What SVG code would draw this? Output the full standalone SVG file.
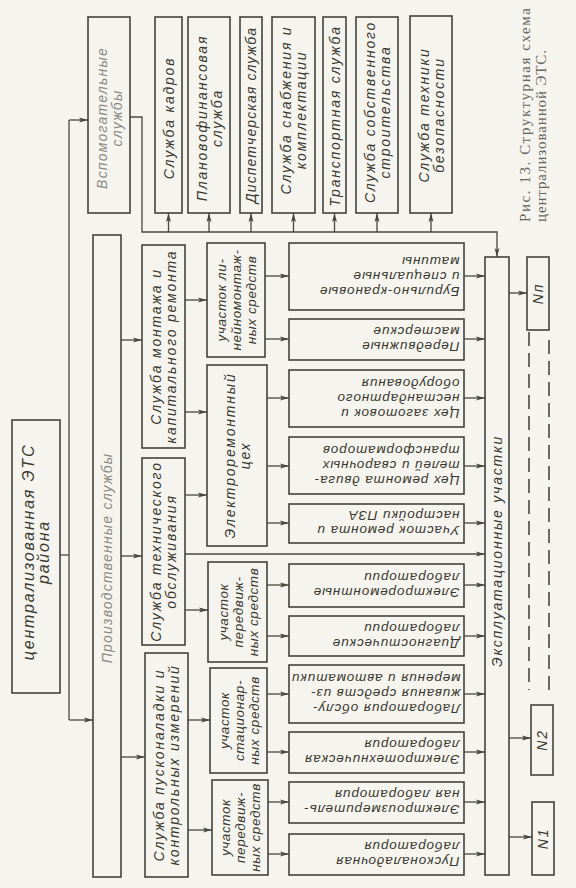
<svg xmlns="http://www.w3.org/2000/svg" width="576" height="888" viewBox="0 0 576 888">
<style>
.bg{fill:#f6f4ee}
.box{fill:none;stroke:#43433d;stroke-width:1.6}
.ln{fill:none;stroke:#48483f;stroke-width:1.3}
.ar{marker-end:url(#a)}
.dash{fill:none;stroke:#48483f;stroke-width:1.6;stroke-dasharray:14 7}
.t{font-family:"Liberation Sans","DejaVu Sans",sans-serif;font-style:italic;font-size:14px;fill:#38382f;letter-spacing:1.8px}
.c3{font-size:13.5px;letter-spacing:0.6px}
.c4{font-size:13.5px;letter-spacing:0.9px}
.tight{letter-spacing:1.1px}
.f{fill:#8a8a82;letter-spacing:1.2px}
.big{font-size:16px;letter-spacing:1.8px}
.cap{font-family:"Liberation Serif","DejaVu Serif",serif;font-size:15px;fill:#66665f}
</style>
<defs>
<marker id="a" markerUnits="userSpaceOnUse" markerWidth="9" markerHeight="6" refX="9" refY="3" orient="auto">
<path d="M0,0.5 L9,3 L0,5.5 L2,3 z" fill="#48483f"/>
</marker>
</defs>
<rect class="bg" x="0" y="0" width="576" height="888"/>

<g id="connectors">
<path class="ln" d="M60,555 H69"/>
<path class="ln" d="M69,120 V720"/>
<path class="ln ar" d="M69,120 H88"/>
<path class="ln ar" d="M69,720 H93"/>
<path class="ln ar" d="M130,117 H142 V232 H497 V257"/>
<path class="ln ar" d="M168.5,232 V213"/>
<path class="ln ar" d="M209,232 V213"/>
<path class="ln ar" d="M251,232 V213"/>
<path class="ln ar" d="M293.5,232 V213"/>
<path class="ln ar" d="M334.5,232 V213"/>
<path class="ln ar" d="M377,232 V213"/>
<path class="ln ar" d="M431,232 V213"/>
<path class="ln ar" d="M121,340 H142"/>
<path class="ln ar" d="M121,556 H142"/>
<path class="ln ar" d="M121,757 H145"/>
<path class="ln ar" d="M185,300 H207"/>
<path class="ln ar" d="M185,412 H207"/>
<path class="ln ar" d="M185,495 H207"/>
<path class="ln ar" d="M185,554 H485"/>
<path class="ln ar" d="M185,610 H208"/>
<path class="ln ar" d="M188,720 H210"/>
<path class="ln ar" d="M188,830 H212"/>
<path class="ln ar" d="M265,276 H289"/>
<path class="ln ar" d="M265,339 H289"/>
<path class="ln ar" d="M267,398 H289"/>
<path class="ln ar" d="M267,466 H289"/>
<path class="ln ar" d="M267,523 H289"/>
<path class="ln ar" d="M267,585 H289"/>
<path class="ln ar" d="M267,636 H289"/>
<path class="ln ar" d="M267,694 H289"/>
<path class="ln ar" d="M267,752 H289"/>
<path class="ln ar" d="M268,802 H289"/>
<path class="ln ar" d="M268,854 H289"/>
<path class="ln ar" d="M464,276 H485"/>
<path class="ln ar" d="M464,339 H485"/>
<path class="ln ar" d="M464,398 H485"/>
<path class="ln ar" d="M464,466 H485"/>
<path class="ln ar" d="M464,523 H485"/>
<path class="ln ar" d="M464,585 H485"/>
<path class="ln ar" d="M464,636 H485"/>
<path class="ln ar" d="M464,694 H485"/>
<path class="ln ar" d="M464,752 H485"/>
<path class="ln ar" d="M464,802 H485"/>
<path class="ln ar" d="M464,854 H485"/>
<path class="ln ar" d="M509,293 H527"/>
<path class="ln ar" d="M509,738 H531"/>
<path class="ln ar" d="M509,837 H532"/>
<path class="dash" d="M529,332 V690"/>
<path class="dash" d="M549,340 V692"/>
</g>

<g id="main">
<rect class="box" x="12" y="420" width="48" height="273"/>
<text class="t big" transform="translate(36 552) rotate(-90)" text-anchor="middle"><tspan x="0" y="-2">централизованная ЭТС</tspan><tspan x="0" y="13">района</tspan></text>
</g>

<g id="aux">
<rect class="box" x="88" y="17" width="42" height="196"/>
<text class="t f" transform="translate(109 118) rotate(-90)" text-anchor="middle"><tspan x="0" y="-2.5">Вспомогательные</tspan><tspan x="0" y="12.5">службы</tspan></text>
</g>

<g id="kadry">
<rect class="box" x="155" y="17" width="27" height="196"/>
<text class="t" transform="translate(168.5 118) rotate(-90)" text-anchor="middle"><tspan x="0" y="5">Служба кадров</tspan></text>
</g>
<g id="planfin">
<rect class="box" x="188" y="17" width="42" height="196"/>
<text class="t" transform="translate(209 118) rotate(-90)" text-anchor="middle"><tspan x="0" y="-2.5">Плановофинансовая</tspan><tspan x="0" y="12.5">служба</tspan></text>
</g>
<g id="disp">
<rect class="box" x="240" y="17" width="22" height="196"/>
<text class="t tight" transform="translate(251 115) rotate(-90)" text-anchor="middle"><tspan x="0" y="5">Диспетчерская служба</tspan></text>
</g>
<g id="snab">
<rect class="box" x="272" y="17" width="43" height="196"/>
<text class="t" transform="translate(293.5 110) rotate(-90)" text-anchor="middle"><tspan x="0" y="-2.5">Служба снабжения и</tspan><tspan x="0" y="12.5">комплектации</tspan></text>
</g>
<g id="transp">
<rect class="box" x="323" y="17" width="23" height="196"/>
<text class="t" transform="translate(334.5 116) rotate(-90)" text-anchor="middle"><tspan x="0" y="5">Транспортная служба</tspan></text>
</g>
<g id="stroit">
<rect class="box" x="356" y="17" width="42" height="196"/>
<text class="t" transform="translate(377 112) rotate(-90)" text-anchor="middle"><tspan x="0" y="-2.5">Служба собственного</tspan><tspan x="0" y="12.5">строительства</tspan></text>
</g>
<g id="tb">
<rect class="box" x="410" y="16" width="42" height="197"/>
<text class="t" transform="translate(431 115) rotate(-90)" text-anchor="middle"><tspan x="0" y="-2.5">Служба техники</tspan><tspan x="0" y="12.5">безопасности</tspan></text>
</g>

<g id="caption">
<text class="cap" transform="translate(530 222) rotate(-90)" textLength="214" lengthAdjust="spacing">Рис. 13. Структурная схема</text>
<text class="cap" transform="translate(546 222) rotate(-90)" textLength="172" lengthAdjust="spacing">централизованной ЭТС.</text>
</g>

<g id="prod">
<rect class="box" x="93" y="235" width="28" height="642"/>
<text class="t f" transform="translate(107 558) rotate(-90)" text-anchor="middle"><tspan x="0" y="5">Производственные службы</tspan></text>
</g>

<g id="montazh">
<rect class="box" x="142" y="245" width="43" height="203"/>
<text class="t" transform="translate(163.5 346.5) rotate(-90)" text-anchor="middle"><tspan x="0" y="-2.5">Служба монтажа и</tspan><tspan x="0" y="12.5">капитального ремонта</tspan></text>
</g>
<g id="tehobsl">
<rect class="box" x="142" y="458" width="43" height="187"/>
<text class="t" transform="translate(163.5 551.5) rotate(-90)" text-anchor="middle"><tspan x="0" y="-2.5">Служба технического</tspan><tspan x="0" y="12.5">обслуживания</tspan></text>
</g>
<g id="pusk">
<rect class="box" x="145" y="653" width="43" height="224"/>
<text class="t" transform="translate(166.5 765) rotate(-90)" text-anchor="middle"><tspan x="0" y="-2.5">Служба пусконаладки и</tspan><tspan x="0" y="12.5">контрольных измерений</tspan></text>
</g>

<g id="uch-lm">
<rect class="box" x="207" y="243" width="58" height="114"/>
<text class="t c3" transform="translate(236 300) rotate(-90)" text-anchor="middle"><tspan x="0" y="-10">участок ли-</tspan><tspan x="0" y="5">нейномонтаж-</tspan><tspan x="0" y="20">ных средств</tspan></text>
</g>
<g id="elrem">
<rect class="box" x="207" y="365" width="60" height="181"/>
<text class="t" transform="translate(237 455.5) rotate(-90)" text-anchor="middle"><tspan x="0" y="-2.5">Электроремонтный</tspan><tspan x="0" y="12.5">цех</tspan></text>
</g>
<g id="uch-pered1">
<rect class="box" x="208" y="562" width="59" height="100"/>
<text class="t c3" transform="translate(237.5 612) rotate(-90)" text-anchor="middle"><tspan x="0" y="-10">участок</tspan><tspan x="0" y="5">передвиж-</tspan><tspan x="0" y="20">ных средств</tspan></text>
</g>
<g id="uch-stac">
<rect class="box" x="210" y="668" width="57" height="105"/>
<text class="t c3" transform="translate(238.5 720.5) rotate(-90)" text-anchor="middle"><tspan x="0" y="-10">участок</tspan><tspan x="0" y="5">стационар-</tspan><tspan x="0" y="20">ных средств</tspan></text>
</g>
<g id="uch-pered2">
<rect class="box" x="212" y="780" width="56" height="95"/>
<text class="t c3" transform="translate(240 827.5) rotate(-90)" text-anchor="middle"><tspan x="0" y="-10">участок</tspan><tspan x="0" y="5">передвиж-</tspan><tspan x="0" y="20">ных средств</tspan></text>
</g>

<g id="bur">
<rect class="box" x="289" y="243" width="175" height="67"/>
<text class="t c4" transform="translate(376.5 276.5) rotate(180)"><tspan x="-83" y="-10">Бурильно-крановые</tspan><tspan x="-83" y="5">и специальные</tspan><tspan x="-83" y="20">машины</tspan></text>
</g>
<g id="masterskie">
<rect class="box" x="289" y="319" width="175" height="41"/>
<text class="t c4" transform="translate(376.5 339.5) rotate(180)"><tspan x="-83" y="-2.5">Передвижные</tspan><tspan x="-83" y="12.5">мастерские</tspan></text>
</g>
<g id="zagot">
<rect class="box" x="289" y="370" width="175" height="57"/>
<text class="t c4" transform="translate(376.5 398.5) rotate(180)"><tspan x="-83" y="-10">Цех заготовок и</tspan><tspan x="-83" y="5">нестандартного</tspan><tspan x="-83" y="20">оборудования</tspan></text>
</g>
<g id="remdv">
<rect class="box" x="289" y="437" width="175" height="57"/>
<text class="t c4" transform="translate(376.5 465.5) rotate(180)"><tspan x="-83" y="-10">Цех ремонта двига-</tspan><tspan x="-83" y="5">телей и сварочных</tspan><tspan x="-83" y="20">трансформаторов</tspan></text>
</g>
<g id="pza">
<rect class="box" x="289" y="504" width="175" height="39"/>
<text class="t c4" transform="translate(376.5 523.5) rotate(180)"><tspan x="-83" y="-2.5">Участок ремонта и</tspan><tspan x="-83" y="12.5">настройки ПЗА</tspan></text>
</g>
<g id="elremlab">
<rect class="box" x="289" y="564" width="175" height="43"/>
<text class="t c4" transform="translate(376.5 585.5) rotate(180)"><tspan x="-83" y="-2.5">Электроремонтные</tspan><tspan x="-83" y="12.5">лаборатории</tspan></text>
</g>
<g id="diag">
<rect class="box" x="289" y="616" width="175" height="40"/>
<text class="t c4" transform="translate(376.5 636) rotate(180)"><tspan x="-83" y="-2.5">Диагностические</tspan><tspan x="-83" y="12.5">лаборатории</tspan></text>
</g>
<g id="labobsl">
<rect class="box" x="289" y="665" width="175" height="58"/>
<text class="t c4" transform="translate(376.5 694) rotate(180)"><tspan x="-84" y="-10">Лаборатория обслу-</tspan><tspan x="-84" y="5">живания средств из-</tspan><tspan x="-84" y="20">мерения и автоматики</tspan></text>
</g>
<g id="eltehlab">
<rect class="box" x="289" y="732" width="175" height="41"/>
<text class="t c4" transform="translate(376.5 752.5) rotate(180)"><tspan x="-83" y="-2.5">Электротехническая</tspan><tspan x="-83" y="12.5">лаборатория</tspan></text>
</g>
<g id="elizmlab">
<rect class="box" x="289" y="782" width="175" height="41"/>
<text class="t c4" transform="translate(376.5 802.5) rotate(180)"><tspan x="-83" y="-2.5">Электроизмеритель-</tspan><tspan x="-83" y="12.5">ная лаборатория</tspan></text>
</g>
<g id="pusklab">
<rect class="box" x="289" y="834" width="175" height="41"/>
<text class="t c4" transform="translate(376.5 854.5) rotate(180)"><tspan x="-83" y="-2.5">Пусконаладочная</tspan><tspan x="-83" y="12.5">лаборатория</tspan></text>
</g>

<g id="expl">
<rect class="box" x="485" y="257" width="24" height="618"/>
<text class="t" transform="translate(497 551) rotate(-90)" text-anchor="middle"><tspan x="0" y="5">Эксплуатационные участки</tspan></text>
</g>

<g id="np">
<rect class="box" x="527" y="257" width="22" height="73"/>
<text class="t" transform="translate(538 293.5) rotate(-90)" text-anchor="middle"><tspan x="0" y="5">Nп</tspan></text>
</g>
<g id="n2">
<rect class="box" x="531" y="705" width="22" height="70"/>
<text class="t" transform="translate(542 740) rotate(-90)" text-anchor="middle"><tspan x="0" y="5">N2</tspan></text>
</g>
<g id="n1">
<rect class="box" x="532" y="802" width="22" height="73"/>
<text class="t" transform="translate(543 838.5) rotate(-90)" text-anchor="middle"><tspan x="0" y="5">N1</tspan></text>
</g>
</svg>
